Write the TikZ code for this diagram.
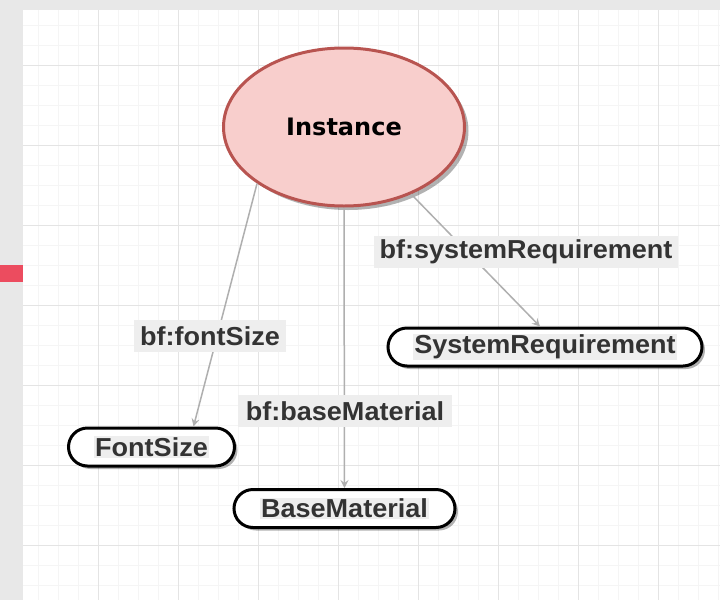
\documentclass[tikz,border=0pt]{standalone}
\usepackage{fontspec}
\newfontfamily\lblfont[FakeStretch=1.04]{Liberation Sans}
\newfontfamily\instfont{DejaVu Sans}
\usepackage{tikz}
\usetikzlibrary{positioning,arrows.meta,shapes.geometric,shadows}
\usepackage{xcolor}
\definecolor{outergray}{RGB}{232,232,232}
\definecolor{gridminor}{RGB}{245,245,245}
\definecolor{gridmajor}{RGB}{228,228,228}
\definecolor{instfill}{RGB}{248,206,204}
\definecolor{instdraw}{RGB}{184,84,80}
\definecolor{edgegray}{RGB}{175,175,175}
\definecolor{lblbg}{RGB}{238,238,238}
\definecolor{lbltext}{RGB}{51,51,51}
\definecolor{tabred}{RGB}{236,76,95}
\newcommand{\txtbg}[1]{{\setlength{\fboxsep}{1pt}\colorbox{lblbg}{#1}}}

\begin{document}
\begin{tikzpicture}[x=1pt,y=-1pt,
  cls/.style={ellipse,draw=instdraw,fill=instfill,line width=3pt,
    minimum width=241pt,minimum height=158pt,text=black,
    font=\instfont\bfseries\fontsize{24}{29}\selectfont,
    drop shadow={shadow xshift=4pt,shadow yshift=-4pt,fill=black,opacity=0.3}},
  lit/.style={rectangle,rounded corners=19pt,draw=black,fill=white,line width=3pt,
    minimum height=38pt,inner sep=0pt,text=lbltext,
    font=\lblfont\bfseries\fontsize{26}{31}\selectfont,
    drop shadow={shadow xshift=3pt,shadow yshift=-3pt,fill=black,opacity=0.3}},
  prop/.style={rectangle,fill=lblbg,text=lbltext,inner sep=0pt,
    minimum height=32pt,font=\lblfont\bfseries\fontsize{26}{31}\selectfont},
  link/.style={-{Stealth[length=8pt,width=8pt,inset=3pt]},draw=edgegray,line width=1.5pt},
  gminor/.style={draw=gridminor,line width=1pt},
  gmajor/.style={draw=gridmajor,line width=1pt}
]
\useasboundingbox (0,0) rectangle (720,600);
\fill[outergray] (0,0) rectangle (720,600);
\fill[white] (23,10) rectangle (720,600);
\foreach \gx in {38,58,...,718} \draw[gminor] (\gx,10) -- (\gx,600);
\foreach \gy in {25,45,...,585} \draw[gminor] (23,\gy) -- (720,\gy);
\foreach \gx in {98,178,...,658} \draw[gmajor] (\gx,10) -- (\gx,600);
\foreach \gy in {65,145,...,545} \draw[gmajor] (23,\gy) -- (720,\gy);
\fill[tabred] (0,265) rectangle (23,282);

\node[cls] (inst) at (344,127) {Instance};
\node[lit,minimum width=166pt] (fs) at (151.5,447) {\txtbg{FontSize}};
\node[lit,minimum width=221pt] (bm) at (344.5,508.5) {\txtbg{BaseMaterial}};
\node[lit,minimum width=314pt] (sr) at (545,347) {\txtbg{SystemRequirement}};

\draw[link] (inst.213) -- ([xshift=42pt]fs.north);
\draw[link] (inst.south) -- (bm.north);
\draw[link] (inst.-45) -- ([xshift=-5pt]sr.north);

\node[prop,minimum width=152pt] (lfs) at (210,336) {bf:fontSize};
\node[prop,minimum width=214pt] (lbm) at (345,411) {bf:baseMaterial};
\node[prop,minimum width=304pt] (lsr) at (526,251.5) {bf:systemRequirement};
\end{tikzpicture}
\end{document}
